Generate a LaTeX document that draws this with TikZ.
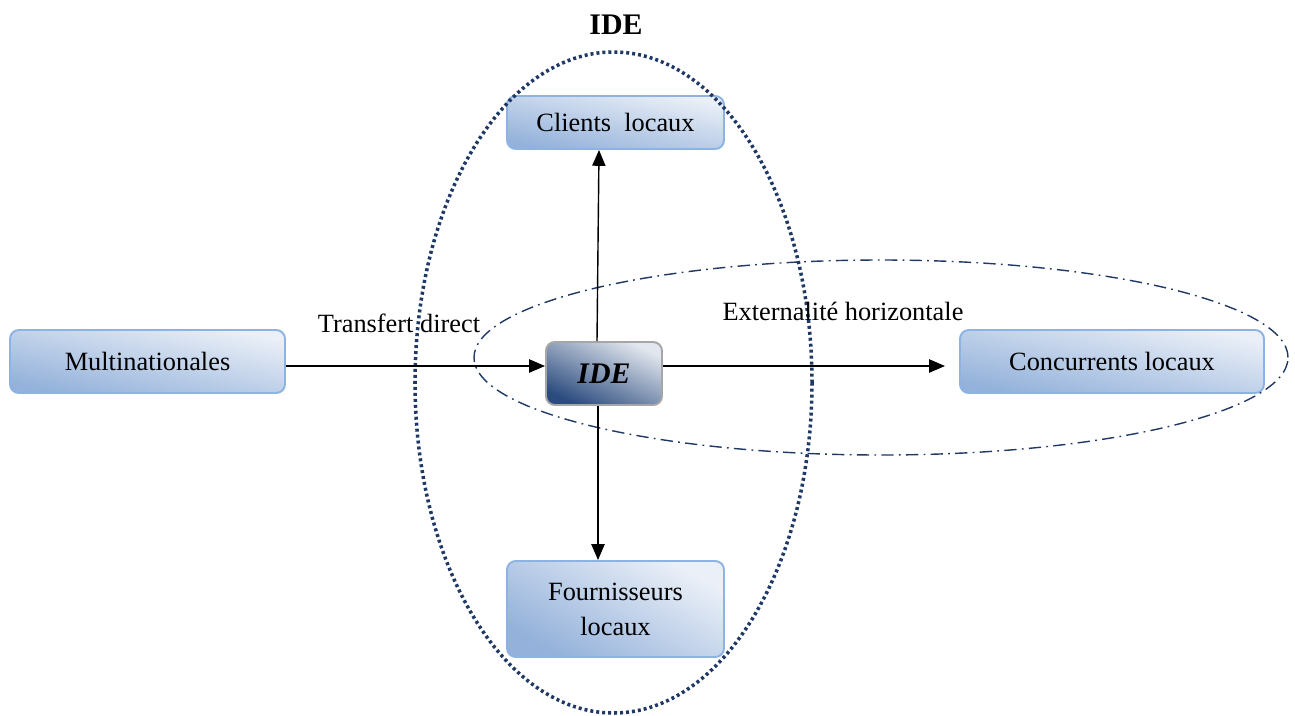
\documentclass[tikz,border=0pt]{standalone}
\usepackage{fontspec}
\setmainfont{Liberation Serif}
\usepackage{xcolor}
\usepackage{tikz}
\usetikzlibrary{shapes.geometric,arrows.meta,positioning}

\definecolor{boxdark}{HTML}{93B1DA}
\definecolor{boxlight}{HTML}{EBF0F8}
\definecolor{boxborder}{HTML}{8DB3E2}
\definecolor{idedark}{HTML}{2B4B7E}
\definecolor{idelight}{HTML}{E2E7EF}
\definecolor{navy}{HTML}{1F3864}

\begin{document}
\begin{tikzpicture}[x=0.2mm, y=-0.2mm]
  % styles
  \tikzstyle{actor}=[rectangle, draw=boxborder, line width=1.1pt, rounded corners=5pt, top color=boxlight, bottom color=boxdark, shading angle=-12, align=center, font=\fontsize{15}{20}\selectfont]
  \tikzstyle{core}=[rectangle, draw=black!35, line width=1.1pt, rounded corners=5pt, top color=idelight, bottom color=idedark, shading angle=-25, font=\fontsize{17}{20}\selectfont\bfseries\itshape]
  \tikzstyle{label}=[font=\fontsize{15}{18}\selectfont]
  \tikzstyle{line} = [draw, line width=0.8pt, -{Triangle[length=9pt,width=7.5pt]}]
  \tikzstyle{zone} = [ellipse, draw=navy, line width=2pt, dash pattern=on 1.7pt off 1.7pt, inner sep=0pt]
  \tikzstyle{spill} = [ellipse, draw=navy, line width=0.8pt, dash pattern=on 7pt off 3pt on 1pt off 3pt, inner sep=0pt]

  \useasboundingbox (0,0) rectangle (1295,715);

  % boxes
  \node [actor, minimum width=5.5cm, minimum height=1.26cm] (multinationales) at (147.5,361.5) {Multinationales};
  \node [core, minimum width=2.32cm, minimum height=1.26cm] (ide) at (604,373.5) {IDE};
  \node [actor, minimum width=4.34cm, minimum height=1.06cm] (clients) at (615.5,122.5) {Clients~~locaux};
  \node [actor, minimum width=4.34cm, minimum height=1.92cm, shading angle=-30] (fournisseurs) at (615.5,609) {Fournisseurs\\locaux};
  \node [actor, minimum width=6.08cm, minimum height=1.26cm] (concurrents) at (1112,361.5) {Concurrents locaux};

  % zones
  \node [zone, minimum width=7.94cm, minimum height=13.22cm] (zoneIDE) at (613.5,382.5) {};
  \node [spill, minimum width=16.28cm, minimum height=3.9cm] (zoneHoriz) at (881,357.5) {};

  % labels
  \node [font=\fontsize{17}{20}\selectfont\bfseries] (titre) at (616,25) {IDE};
  \node [label] (transfert) at (399,323) {Transfert direct};
  \node [label] (externalite) at (843,311) {Externalité horizontale};

  % arrows
  \coordinate (concIn) at ([xshift=-2.8mm]concurrents.west |- 0,366);
  \draw [line] (multinationales.east |- 0,366) to (ide.west |- 0,366);
  \draw [line] (ide.east |- 0,366) to (concIn);
  \draw [line] (ide.north -| 597,0) to (clients.south -| 599,0);
  \draw [line] (ide.south -| 598,0) to (fournisseurs.north -| 598,0);
\end{tikzpicture}
\end{document}
